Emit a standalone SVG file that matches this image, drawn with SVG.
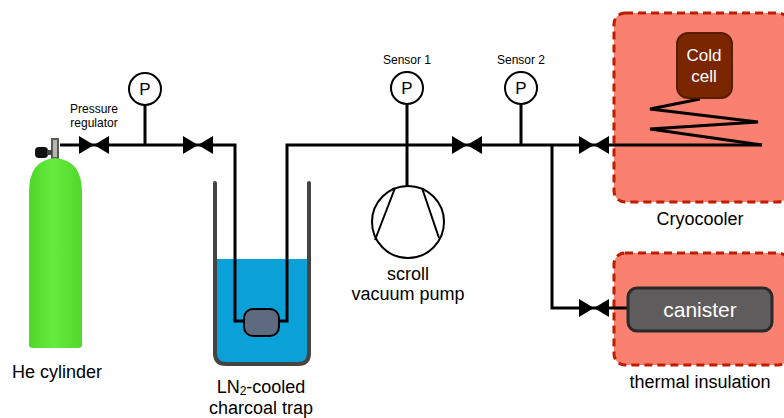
<svg xmlns="http://www.w3.org/2000/svg" width="784" height="418" viewBox="0 0 784 418">
  <style>
    .pipe { fill: none; stroke: #000; stroke-width: 3; stroke-linejoin: miter; }
    .thin { fill: none; stroke: #000; stroke-width: 2; }
    .gauge { fill: #fff; stroke: #000; stroke-width: 2; }
    .lbl { font-family: "Liberation Sans", Arial, sans-serif; fill: #000; text-anchor: middle; }
    .small { font-size: 12px; }
    .big { font-size: 18px; }
    .zone { fill: #fa8170; stroke: #c01a00; stroke-width: 3; stroke-dasharray: 8 5; }
    .white { font-family: "Liberation Sans", Arial, sans-serif; fill: #fff; text-anchor: middle; }
  </style>
  <defs>
    <!-- bow-tie valve symbol centred on origin -->
    <g id="valve">
      <polygon points="-15,-9 -15,9 0,0" fill="#000"/>
      <polygon points="15,-9 15,9 0,0" fill="#000"/>
    </g>
    <!-- pressure gauge -->
    <g id="gauge">
      <circle r="16" class="gauge"/>
      <text y="6" class="lbl" style="font-size:17px">P</text>
    </g>
    <linearGradient id="green" x1="0" x2="1">
      <stop offset="0" stop-color="#4fd62a"/>
      <stop offset="0.45" stop-color="#66ec3e"/>
      <stop offset="1" stop-color="#52d82c"/>
    </linearGradient>
  </defs>

  <!-- cryocooler and insulation zones -->
  <g id="cryocooler">
    <rect x="614" y="13" width="175" height="189" rx="11" class="zone"/>
    <text x="700" y="225" class="lbl big">Cryocooler</text>
  </g>
  <g id="insulation">
    <rect x="614" y="253" width="175" height="112" rx="11" class="zone"/>
    <text x="700" y="388" class="lbl big">thermal insulation</text>
  </g>

  <!-- connectors -->
  <g id="connectors">
    <path class="pipe" d="M60,145 H235 V321 H245"/>
    <path class="pipe" d="M279,321 H287 V145 H762"/>
    <path class="pipe" d="M145,105 V145"/>
    <path class="pipe" d="M407,105 V186"/>
    <path class="pipe" d="M521,105 V145"/>
    <path class="pipe" d="M552,145 V308 H628"/>
    <path class="pipe" d="M700,99 L650,109 L758,122 L650,129 L762,145"/>
    <use href="#valve" x="94" y="145"/>
    <use href="#valve" x="198" y="145"/>
    <use href="#valve" x="467" y="145"/>
    <use href="#valve" x="594" y="145"/>
    <use href="#valve" x="594" y="308"/>
  </g>

  <!-- helium cylinder -->
  <g id="he-cylinder">
    <rect x="51" y="138" width="8" height="21" fill="#5a5a5a"/>
    <rect x="53" y="140" width="4" height="17" fill="#b8b8b0"/>
    <rect x="35" y="147" width="13" height="11" rx="4" fill="#111"/>
    <rect x="47" y="150" width="5" height="5" fill="#444"/>
    <path d="M29,345 V192 Q29,160 55,158 Q82,160 82,192 V345 Q82,348 78,348 H33 Q29,348 29,345 Z" fill="url(#green)"/>
    <text x="57" y="378" class="lbl big">He cylinder</text>
  </g>

  <!-- regulator and gauge -->
  <g id="regulator">
    <text x="94" y="113" class="lbl small">Pressure</text>
    <text x="94" y="127" class="lbl small">regulator</text>
  </g>
  <g id="gauge-reg"><use href="#gauge" x="145" y="89"/></g>

  <!-- LN2 charcoal trap -->
  <g id="charcoal-trap">
    <path d="M215,259 H309 V353 Q309,364 298,364 H226 Q215,364 215,353 Z" fill="#0aa0d8"/>
    <path d="M215,183 V353 Q215,364 226,364 H298 Q309,364 309,353 V183" fill="none" stroke="#444" stroke-width="4" stroke-linecap="round"/>
    <path class="pipe" d="M235,259 V321 H245"/>
    <path class="pipe" d="M279,321 H287 V259"/>
    <rect x="244" y="309" width="35" height="27" rx="9" fill="#5d6a80" stroke="#000" stroke-width="2"/>
    <text x="261" y="393" class="lbl big">LN<tspan font-size="12" dy="2">2</tspan><tspan dy="-2">-cooled</tspan></text>
    <text x="261" y="414" class="lbl big">charcoal trap</text>
  </g>

  <!-- pressure sensors -->
  <g id="sensor1">
    <text x="407" y="64" class="lbl small">Sensor 1</text>
    <use href="#gauge" x="407" y="88"/>
  </g>
  <g id="sensor2">
    <text x="521" y="64" class="lbl small">Sensor 2</text>
    <use href="#gauge" x="521" y="88"/>
  </g>

  <!-- scroll vacuum pump -->
  <g id="scroll-pump">
    <circle cx="408" cy="222" r="36" fill="#fff" stroke="#000" stroke-width="2"/>
    <path class="thin" d="M395,188 L375,240 M422,188 L439,238"/>
    <text x="408" y="280" class="lbl big">scroll</text>
    <text x="408" y="300" class="lbl big">vacuum pump</text>
  </g>

  <!-- cold cell -->
  <g id="cold-cell">
    <rect x="677" y="33" width="55" height="65" rx="11" fill="#7a2600" stroke="#5a1c00" stroke-width="2"/>
    <text x="704" y="61" class="white" style="font-size:17px">Cold</text>
    <text x="704" y="82" class="white" style="font-size:17px">cell</text>
  </g>

  <!-- canister -->
  <g id="canister">
    <rect x="628" y="288" width="144" height="43" rx="9" fill="#5f5c5e" stroke="#2a2a2a" stroke-width="3"/>
    <text x="700" y="317" class="white" style="font-size:21px">canister</text>
  </g>
</svg>
